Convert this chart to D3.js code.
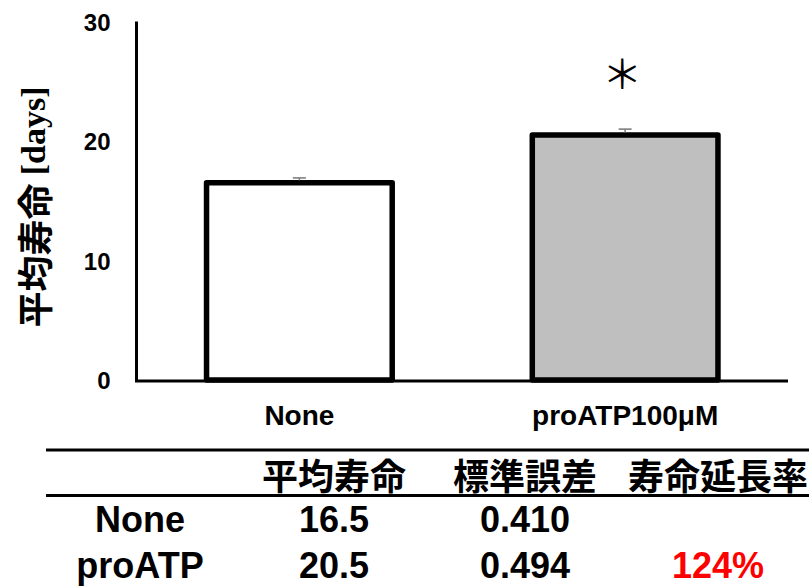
<!DOCTYPE html>
<html>
<head>
<meta charset="utf-8">
<script src="https://cdn.jsdelivr.net/npm/d3@7"></script>
<style>
  html, body { margin: 0; padding: 0; background: #fff; }
  svg { display: block; }
</style>
</head>
<body>
<svg id="chart" width="809" height="587"></svg>
<script>
// Mean lifespan with and without proATP
const categories = ["None", "proATP100μM"];
const meanLifespan = [16.5, 20.5];
const stdError = [0.410, 0.494];
const barFills = ["#ffffff", "#bfbfbf"];
const yTicks = [0, 10, 20, 30];
const significance = ["", "＊"];

// Summary table
const tableHeaders = ["平均寿命", "標準誤差", "寿命延長率"];
const tableRowLabels = ["None", "proATP"];
const tableMean = ["16.5", "20.5"];
const tableSE = ["0.410", "0.494"];
const tableExtension = ["", "124%"];

const latin = "'Liberation Sans', Arial, sans-serif";
const cjk = "'Noto Sans CJK JP', 'Noto Sans CJK SC', sans-serif";

const svg = d3.select("#chart");

const x = d3.scaleBand()
  .domain(categories)
  .range([136.5, 788])
  .paddingInner(0.43)
  .paddingOuter(0.215);

const y = d3.scaleLinear()
  .domain([0, 30])
  .range([380, 21.5]);

// Axes
const yAxis = d3.axisLeft(y).tickValues(yTicks).tickSize(0).tickPadding(26);
const gy = svg.append("g").attr("transform", "translate(136.5,0)").call(yAxis);
gy.select(".domain").attr("stroke", "#000").attr("stroke-width", 3)
  .attr("d", `M0,${y(30)}V${y(0) + 1}`);
gy.selectAll(".tick text")
  .attr("font-family", latin).attr("font-weight", "bold")
  .attr("font-size", 24).attr("fill", "#000")
  .attr("dy", "0.36em");

const xAxis = d3.axisBottom(x).tickSize(0).tickPadding(0);
const gx = svg.append("g").attr("transform", `translate(0,${y(0) + 1})`).call(xAxis);
gx.select(".domain").attr("stroke", "#000").attr("stroke-width", 3)
  .attr("d", "M135,0H788");
gx.selectAll(".tick text")
  .attr("font-family", latin).attr("font-weight", "bold")
  .attr("font-size", 28).attr("fill", "#000")
  .attr("dy", 0).attr("y", 44);

// Bars
svg.append("g").selectAll("rect")
  .data(categories)
  .join("rect")
  .attr("x", d => x(d))
  .attr("width", x.bandwidth())
  .attr("y", (d, i) => y(meanLifespan[i]))
  .attr("height", (d, i) => y(0) - y(meanLifespan[i]))
  .attr("fill", (d, i) => barFills[i])
  .attr("stroke", "#000")
  .attr("stroke-width", 5.5)
  .attr("stroke-linejoin", "round");

// Error bars (upper half)
const eb = svg.append("g").attr("stroke", "#7f7f7f").attr("stroke-width", 1.6);
categories.forEach((c, i) => {
  const cx = x(c) + x.bandwidth() / 2;
  const top = y(meanLifespan[i] + stdError[i]);
  eb.append("line").attr("x1", cx).attr("x2", cx)
    .attr("y1", y(meanLifespan[i]) - 2.5).attr("y2", top);
  eb.append("line").attr("x1", cx - 6.5).attr("x2", cx + 6.5)
    .attr("y1", top).attr("y2", top);
});

// Significance marker
svg.append("g").selectAll("text")
  .data(categories)
  .join("text")
  .attr("x", d => x(d) + x.bandwidth() / 2 - 3)
  .attr("y", (d, i) => y(meanLifespan[i]) - 63)
  .attr("text-anchor", "middle")
  .attr("dominant-baseline", "central")
  .attr("font-family", cjk)
  .attr("font-size", 40)
  .attr("fill", "#000")
  .text((d, i) => significance[i]);

// Y axis title
const title = svg.append("text")
  .attr("transform", "translate(33,207) rotate(-90)")
  .attr("text-anchor", "middle")
  .attr("dominant-baseline", "central")
  .attr("fill", "#000");
title.append("tspan").attr("font-family", cjk).attr("font-weight", "bold")
  .attr("font-size", 36).text("平均寿命 ");
title.append("tspan").attr("font-family", "'Liberation Serif', 'Times New Roman', serif")
  .attr("font-weight", "bold").attr("font-size", 34).text("[days]");

// Table rules
svg.append("g").attr("stroke", "#000").attr("stroke-width", 3)
  .selectAll("line")
  .data([450, 495.5])
  .join("line")
  .attr("x1", 46).attr("x2", 809)
  .attr("y1", d => d).attr("y2", d => d);

const colX = [140, 334, 525, 718];

// Header row
svg.append("g").selectAll("text")
  .data(tableHeaders)
  .join("text")
  .attr("x", (d, i) => colX[i + 1])
  .attr("y", 474)
  .attr("text-anchor", "middle")
  .attr("dominant-baseline", "central")
  .attr("font-family", cjk).attr("font-weight", "bold")
  .attr("font-size", 36).attr("fill", "#000")
  .text(d => d);

// Body rows
const rowBaselines = [532, 578];
const body = svg.append("g")
  .attr("font-family", latin).attr("font-weight", "bold")
  .attr("font-size", 36).attr("text-anchor", "middle");
tableRowLabels.forEach((label, r) => {
  const cells = [label, tableMean[r], tableSE[r], tableExtension[r]];
  body.append("g").selectAll("text")
    .data(cells)
    .join("text")
    .attr("x", (d, i) => colX[i])
    .attr("y", rowBaselines[r])
    .attr("fill", (d, i) => i === 3 ? "#ff0000" : "#000")
    .text(d => d);
});
</script>
</body>
</html>
